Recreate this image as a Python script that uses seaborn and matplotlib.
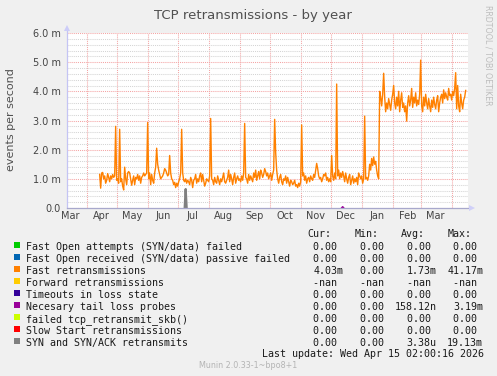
import numpy as np
import pandas as pd
import matplotlib
matplotlib.use("Agg")
import matplotlib.pyplot as plt
import matplotlib.dates as mdates
import matplotlib.ticker as mticker
from matplotlib.patches import Rectangle, Polygon
from matplotlib.lines import Line2D
import seaborn as sns

# ---------------- data (values in milli-events / second) ----------------
fast_apr25 = [1.15, 0.68, 1.2, 1.22, 1.0, 1.1, 0.85, 0.95, 1.18, 1.05, 0.9, 1.1, 1.0, 1.15, 1.05, 1.1, 2.8]
fast_may25 = [0.95, 1.0, 0.85, 2.7, 0.9, 1.0, 0.75, 0.62, 1.4, 1.0, 0.8, 1.2, 1.25, 1.2, 1.0, 0.78, 0.95, 1.1, 0.8, 1.05,
              1.0, 1.15, 0.95, 1.1, 0.85, 1.05, 1.1, 1.2, 1.1, 1.15, 1.2]
fast_jun25 = [2.93, 1.0, 1.2, 0.8, 1.15, 0.95, 0.85, 1.2, 1.4, 2.05, 1.5, 1.3, 1.15, 1.0, 1.05, 1.1, 1.2, 1.35, 1.3, 1.2,
              1.1, 1.15, 1.8, 1.2, 1.0, 0.95, 0.8, 0.88, 0.7, 0.85]
fast_jul25 = [0.75, 0.9, 1.0, 1.2, 2.7, 1.2, 0.95, 0.9, 1.0, 0.85, 0.95, 0.9, 0.8, 1.05, 0.95, 0.7, 0.95, 1.0, 1.15, 0.85,
              1.0, 0.9, 1.1, 1.2, 0.9, 1.15, 0.95, 0.75, 0.85, 1.0, 0.95]
fast_aug25 = [0.9, 1.1, 3.07, 1.0, 0.95, 0.8, 1.05, 0.9, 0.85, 1.1, 0.95, 0.8, 1.0, 0.9, 1.05, 1.2, 0.9, 0.85, 0.95, 1.05,
              1.3, 0.9, 1.15, 1.0, 0.8, 1.05, 1.2, 0.85, 1.0, 1.1, 0.95]
fast_sep25 = [1.0, 0.9, 1.1, 0.95, 1.2, 2.9, 1.05, 1.0, 0.85, 1.15, 0.95, 1.1, 1.0, 0.9, 1.2, 1.05, 1.3, 0.95, 1.1, 1.25,
              1.0, 1.3, 1.2, 1.05, 1.15, 1.35, 1.25, 1.1, 1.2, 1.0]
fast_oct25 = [1.1, 1.2, 0.95, 1.15, 1.3, 3.04, 1.9, 1.3, 1.0, 0.85, 1.05, 1.15, 0.9, 0.8, 1.0, 0.95, 1.1, 0.85, 1.05, 0.9,
              0.75, 0.95, 0.9, 0.8, 0.85, 0.95, 0.75, 0.8, 0.7, 0.85, 0.75]
fast_nov25 = [0.9, 2.85, 1.1, 1.2, 0.95, 1.1, 0.85, 1.0, 1.05, 0.9, 1.1, 1.0, 0.95, 1.15, 1.05, 1.3, 1.53, 1.35, 1.1, 1.0,
              1.05, 0.9, 1.0, 1.15, 1.1, 1.2, 0.95, 1.05, 0.9, 1.0]
fast_dec25 = [0.9, 1.8, 1.1, 0.95, 1.2, 1.0, 4.25, 1.1, 1.3, 1.0, 1.2, 1.05, 1.25, 1.1, 0.9, 1.2, 1.0, 0.85, 1.05, 1.15,
              0.8, 0.95, 1.1, 0.85, 1.0, 0.9, 1.05, 0.8, 1.2, 1.1, 1.0]
fast_jan26 = [1.1, 0.85, 1.0, 3.15, 1.0, 1.05, 0.95, 1.1, 1.5, 1.3, 1.7, 1.45, 1.75, 1.5, 1.6, 1.3, 1.1, 1.0,
              4.0, 3.8, 3.5, 3.9, 4.62, 3.8, 3.3, 3.6, 3.4, 3.75, 3.55, 3.35, 3.7]
fast_feb26 = [3.9, 4.2, 3.6, 3.4, 3.8, 3.5, 4.0, 3.3, 3.7, 3.95, 3.45, 3.6, 3.3, 3.5, 2.98, 3.6, 3.85, 3.5, 3.7, 4.1,
              3.45, 3.8, 3.6, 3.95, 3.5, 3.7, 3.55, 3.9]
fast_mar26 = [5.07, 3.5, 3.3, 3.8, 3.5, 3.9, 3.6, 3.4, 3.75, 3.5, 3.3, 3.7, 3.45, 3.8, 3.55, 3.4, 3.7, 3.85, 3.3, 3.6,
              3.8, 3.9, 3.6, 4.05, 3.75, 3.95, 3.8, 3.7, 4.1, 3.85, 3.9]
fast_apr26 = [3.7, 4.0, 3.85, 4.1, 4.64, 3.4, 4.2, 3.5, 3.3, 3.9, 3.6, 3.4, 3.7, 3.8, 4.03]
fast_start = "2025-04-14"

syn_dates = ["2025-07-08", "2025-07-09", "2025-07-10"]
syn_values = [0.0, 0.65, 0.0]
tlp_dates = ["2025-12-12", "2025-12-13", "2025-12-14"]
tlp_values = [0.0, 0.04, 0.0]

month_label_dates = ["2025-03-16", "2025-04-16", "2025-05-16", "2025-06-16", "2025-07-16", "2025-08-16",
                     "2025-09-16", "2025-10-16", "2025-11-16", "2025-12-16", "2026-01-16", "2026-02-16",
                     "2026-03-16"]
month_labels = ["Mar", "Apr", "May", "Jun", "Jul", "Aug", "Sep", "Oct", "Nov", "Dec", "Jan", "Feb", "Mar"]

legend_labels = ["Fast Open attempts (SYN/data) failed",
                 "Fast Open received (SYN/data) passive failed",
                 "Fast retransmissions",
                 "Forward retransmissions",
                 "Timeouts in loss state",
                 "Necesary tail loss probes",
                 "failed tcp_retransmit_skb()",
                 "Slow Start retransmissions",
                 "SYN and SYN/ACK retransmits"]
legend_colors = ["#00CC00", "#0066B3", "#FF8000", "#FFCC00", "#330099",
                 "#990099", "#CCFF00", "#FF0000", "#808080"]
cur_vals = ["0.00 ", "0.00 ", "4.03m", "-nan ", "0.00 ", "0.00 ", "0.00 ", "0.00 ", "0.00 "]
min_vals = ["0.00 ", "0.00 ", "0.00 ", "-nan ", "0.00 ", "0.00 ", "0.00 ", "0.00 ", "0.00 "]
avg_vals = ["0.00 ", "0.00 ", "1.73m", "-nan ", "0.00 ", "158.12n", "0.00 ", "0.00 ", "3.38u"]
max_vals = ["0.00 ", "0.00 ", "41.17m", "-nan ", "0.00 ", "3.19m", "0.00 ", "0.00 ", "19.13m"]
col_headers = ["Cur:", "Min:", "Avg:", "Max:"]

# ---------------- figure ----------------
W, H = 497, 376
fig = plt.figure(figsize=(W / 100, H / 100), dpi=100, facecolor="#F0F0F0")


def fx(x):
    return x / W


def fy(y):
    return 1 - y / H


ax = fig.add_axes([fx(67), fy(208), (468 - 67) / W, (208 - 33) / H])
ax.set_facecolor("white")

fast = (fast_apr25 + fast_may25 + fast_jun25 + fast_jul25 + fast_aug25 + fast_sep25 + fast_oct25 +
        fast_nov25 + fast_dec25 + fast_jan26 + fast_feb26 + fast_mar26 + fast_apr26)
df_fast = pd.DataFrame({"date": pd.date_range(fast_start, periods=len(fast), freq="D"), "value": fast})
df_syn = pd.DataFrame({"date": pd.to_datetime(syn_dates), "value": syn_values})
df_tlp = pd.DataFrame({"date": pd.to_datetime(tlp_dates), "value": tlp_values})

sns.lineplot(data=df_syn, x="date", y="value", ax=ax, color="#808080", linewidth=1.6, zorder=3)
sns.lineplot(data=df_tlp, x="date", y="value", ax=ax, color="#990099", linewidth=1.2, zorder=3)
sns.lineplot(data=df_fast, x="date", y="value", ax=ax, color="#FF8000", linewidth=1.0, zorder=4)

ax.set_xlim(pd.Timestamp("2025-03-12 08:00"), pd.Timestamp("2026-04-17 08:00"))
ax.set_ylim(0, 6.0)

ax.xaxis.set_major_locator(mdates.MonthLocator())
ax.xaxis.set_major_formatter(mticker.NullFormatter())
ax.xaxis.set_minor_locator(mticker.FixedLocator(mdates.date2num(pd.to_datetime(month_label_dates))))
ax.xaxis.set_minor_formatter(mticker.FixedFormatter(month_labels))
ax.yaxis.set_major_locator(mticker.MultipleLocator(1.0))
ax.yaxis.set_minor_locator(mticker.MultipleLocator(0.2))
ax.yaxis.set_major_formatter(mticker.FuncFormatter(lambda v, _: "0.0" if abs(v) < 1e-9 else f"{v:.1f} m"))

ax.set_axisbelow(True)
dot = (0, (1, 1))
ax.xaxis.grid(True, which="major", color="#F4A4A4", linestyle=dot, linewidth=0.75)
ax.yaxis.grid(True, which="major", color="#F4A4A4", linestyle=dot, linewidth=0.75)
ax.yaxis.grid(True, which="minor", color="#D4D4D4", linestyle=dot, linewidth=0.75)

ax.tick_params(axis="both", which="both", length=0, labelsize=7, labelcolor="#444444")
ax.tick_params(axis="y", pad=4.5)
ax.tick_params(axis="x", which="minor", pad=2.2)
ax.set_xlabel("")
ax.set_ylabel("")
for s in ax.spines.values():
    s.set_visible(False)

# axis lines and arrows
fig.add_artist(Line2D([fx(67), fx(67)], [fy(208), fy(29)], transform=fig.transFigure,
                      color="#C4C4F4", linewidth=0.9, zorder=5))
fig.add_artist(Polygon([[fx(64), fy(31)], [fx(70), fy(31)], [fx(67), fy(25)]], closed=True,
                       transform=fig.transFigure, facecolor="#CCCCF8", edgecolor="none", zorder=5))
fig.add_artist(Line2D([fx(67), fx(470)], [fy(208), fy(208)], transform=fig.transFigure,
                      color="#A8A8CC", linewidth=0.9, zorder=5))
fig.add_artist(Polygon([[fx(469), fy(205)], [fx(469), fy(211)], [fx(475), fy(208)]], closed=True,
                       transform=fig.transFigure, facecolor="#D0D0F8", edgecolor="none", zorder=5))

# texts
fig.text(fx(252.8), fy(18.7), "TCP retransmissions - by year", ha="center", va="baseline",
         fontsize=9.5, color="#505050")
fig.text(fx(11), fy(120), "events per second", rotation=90, ha="center", va="center",
         fontsize=8, color="#505050")
fig.text(fx(488), fy(5), "RRDTOOL / TOBI OETIKER", rotation=270, ha="center", va="top",
         fontsize=5.7, color="#BDBDBD")

mono = dict(family="DejaVu Sans Mono", fontsize=7.2, color="#1A1A1A", va="baseline")
cw = 0.602 * 7.2 * 100 / 72
header_x = [307.3, 354.3, 400.7, 447.7]
for hx, htxt in zip(header_x, col_headers):
    fig.text(fx(hx), fy(237), htxt, ha="left", **mono)

col_right = [343.3, 390.0, 436.7, 483.3]
for i, lab in enumerate(legend_labels):
    base = 249.7 + 12 * i
    fig.add_artist(Rectangle((fx(14), fy(base - 1.3)), 6 / W, 6 / H, transform=fig.transFigure,
                             facecolor=legend_colors[i], edgecolor="none"))
    fig.text(fx(26.3), fy(base), lab, ha="left", **mono)
    for R, vals in zip(col_right, [cur_vals, min_vals, avg_vals, max_vals]):
        s = vals[i]
        fig.text(fx(R - cw * len(s)), fy(base), s, ha="left", **mono)

fig.text(fx(261.7), fy(357), "Last update: Wed Apr 15 02:00:16 2026", ha="left", **mono)
fig.text(fx(248.3), fy(368.3), "Munin 2.0.33-1~bpo8+1", ha="center", va="baseline",
         fontsize=5.75, color="#B4B4B4")

fig.savefig("out.png", dpi=100, facecolor=fig.get_facecolor())
